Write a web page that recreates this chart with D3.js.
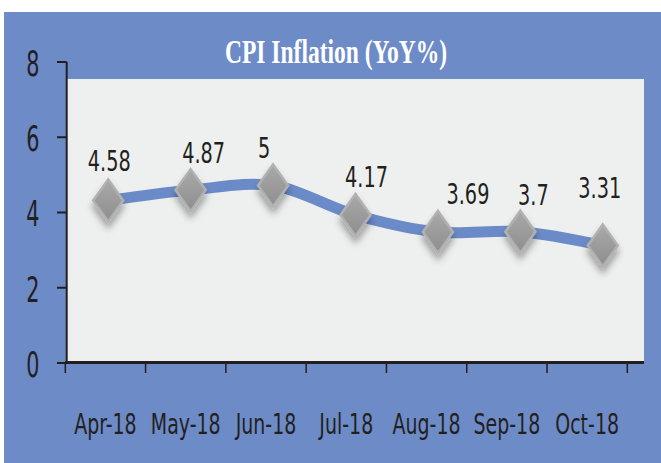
<!DOCTYPE html>
<html lang="en">
<head>
    <meta charset="UTF-8">
    <title>CPI Inflation</title>
    <script src="https://d3js.org/d3.v7.min.js"></script>
    <style>
        body { margin: 0; background: #fff; }
    </style>
</head>
<body>

<script>
    // data
    months = ["Apr-18", "May-18", "Jun-18", "Jul-18", "Aug-18", "Sep-18", "Oct-18"]
    cpi = [4.58, 4.87, 5, 4.17, 3.69, 3.7, 3.31]
    yTicks = [0, 2, 4, 6, 8]

    // hand-placed label nudges (dx, dy from the point)
    labelNudge = [[1, -29], [13, -27], [-9, -28], [11, -28], [30, -28], [13, -27], [-3, -47]]

    w = 661
    h = 463
    blue = "#6d8bc7"

    svg = d3.select("body")
        .append("svg")
        .attr("width", w)
        .attr("height", h)

    defs = svg.append("defs")
    grad = defs.append("linearGradient")
        .attr("id", "dia").attr("x1", 0).attr("y1", 0).attr("x2", 0).attr("y2", 1)
    grad.append("stop").attr("offset", "0%").attr("stop-color", "#a9a9a9")
    grad.append("stop").attr("offset", "100%").attr("stop-color", "#8e8e8e")
    shadow = defs.append("filter").attr("id", "shadow")
        .attr("x", "-50%").attr("y", "-50%").attr("width", "200%").attr("height", "200%")
    shadow.append("feDropShadow")
        .attr("dx", 0).attr("dy", 6).attr("stdDeviation", 3.5)
        .attr("flood-color", "#000").attr("flood-opacity", 0.35)

    //background
    svg.append("rect")
        .attr("x", 4).attr("y", 12)
        .attr("width", w - 4).attr("height", h - 12)
        .attr("fill", blue)

    // plot area
    plot = {left: 67, right: 644, top: 79, bottom: 363}
    svg.append("rect")
        .attr("x", plot.left).attr("y", plot.top)
        .attr("width", plot.right - plot.left).attr("height", plot.bottom - plot.top)
        .attr("fill", "#eef0ef")

    // title
    svg.append("text")
        .attr("x", 336).attr("y", 63)
        .attr("text-anchor", "middle")
        .attr("font-family", "Liberation Serif, serif")
        .attr("font-weight", "bold")
        .attr("font-size", 34)
        .attr("textLength", 222)
        .attr("lengthAdjust", "spacingAndGlyphs")
        .attr("fill", "#fff")
        .text("CPI Inflation (YoY%)")

    //scales: the series and the axes in the picture are a bit out of step
    x = d3.scaleBand().domain(months).range([plot.left, plot.right])
    y = d3.scaleLinear().domain([0, 8]).range([plot.bottom, plot.top])
    xAxis = d3.scaleBand().domain(months).range([65.3, 627.3])
    yAxis = d3.scaleLinear().domain([0, 8]).range([363, 62])

    font = "DejaVu Sans Condensed, sans-serif"
    ink = "#231f20"

    // narrow text: squeeze the condensed font further, like the original
    function narrow(sel, px, py, sx) {
        sel.attr("transform", (d, i) => "translate(" + px(d, i) + "," + py(d, i) + ") scale(" + sx + ",1)")
            .attr("font-family", font)
            .attr("fill", ink)
    }

    // y axis
    gy = svg.append("g")
    gy.append("line")
        .attr("x1", 66.7).attr("x2", 66.7)
        .attr("y1", yAxis(8)).attr("y2", yAxis(0))
        .attr("stroke", ink).attr("stroke-width", 2)
    gy.selectAll("line.tick")
        .data(yTicks)
        .join("line")
        .attr("class", "tick")
        .attr("x1", 57).attr("x2", 66.7)
        .attr("y1", d => yAxis(d)).attr("y2", d => yAxis(d))
        .attr("stroke", ink).attr("stroke-width", 2)
    gy.selectAll("text")
        .data(yTicks)
        .join("text")
        .attr("text-anchor", "end")
        .attr("font-size", 36)
        .attr("dy", "0.36em")
        .call(narrow, () => 39.5, d => yAxis(d) + 1, 0.64)
        .text(d => d)

    // x axis
    gx = svg.append("g")
    gx.append("line")
        .attr("x1", 65).attr("x2", plot.right)
        .attr("y1", 362.5).attr("y2", 362.5)
        .attr("stroke", ink).attr("stroke-width", 3)
    bounds = months.map(m => xAxis(m)).concat([xAxis.range()[1]])
    gx.selectAll("line.tick")
        .data(bounds)
        .join("line")
        .attr("class", "tick")
        .attr("x1", d => d).attr("x2", d => d)
        .attr("y1", 362).attr("y2", 373)
        .attr("stroke", ink).attr("stroke-width", 1.5)
    gx.selectAll("text")
        .data(months)
        .join("text")
        .attr("text-anchor", "middle")
        .attr("font-size", 28.5)
        .call(narrow, d => xAxis(d) + xAxis.bandwidth() / 2, () => 434, 0.74)
        .text(d => d)

    // series
    pts = months.map((m, i) => ({m: m, v: cpi[i], i: i}))
    line = d3.line()
        .x(d => x(d.m) + x.bandwidth() / 2)
        .y(d => y(d.v))
        .curve(d3.curveCardinal.tension(0))

    svg.append("path")
        .datum(pts)
        .attr("d", line)
        .attr("fill", "none")
        .attr("stroke", "#6b8bc8")
        .attr("stroke-width", 11)

    svg.selectAll("path.marker")
        .data(pts)
        .join("path")
        .attr("class", "marker")
        .attr("transform", d => "translate(" + (x(d.m) + x.bandwidth() / 2) + "," + y(d.v) + ")")
        .attr("d", "M0,-21L15,0L0,21L-15,0Z")
        .attr("fill", "url(#dia)")
        .attr("stroke", "#b1b1b1")
        .attr("stroke-width", 2.5)
        .attr("filter", "url(#shadow)")

    svg.selectAll("text.lab")
        .data(pts)
        .join("text")
        .attr("class", "lab")
        .attr("text-anchor", "middle")
        .attr("font-size", 29)
        .call(narrow, d => x(d.m) + x.bandwidth() / 2 + labelNudge[d.i][0], d => y(d.v) + labelNudge[d.i][1], 0.74)
        .text(d => d.v)
</script>

</body>
</html>
